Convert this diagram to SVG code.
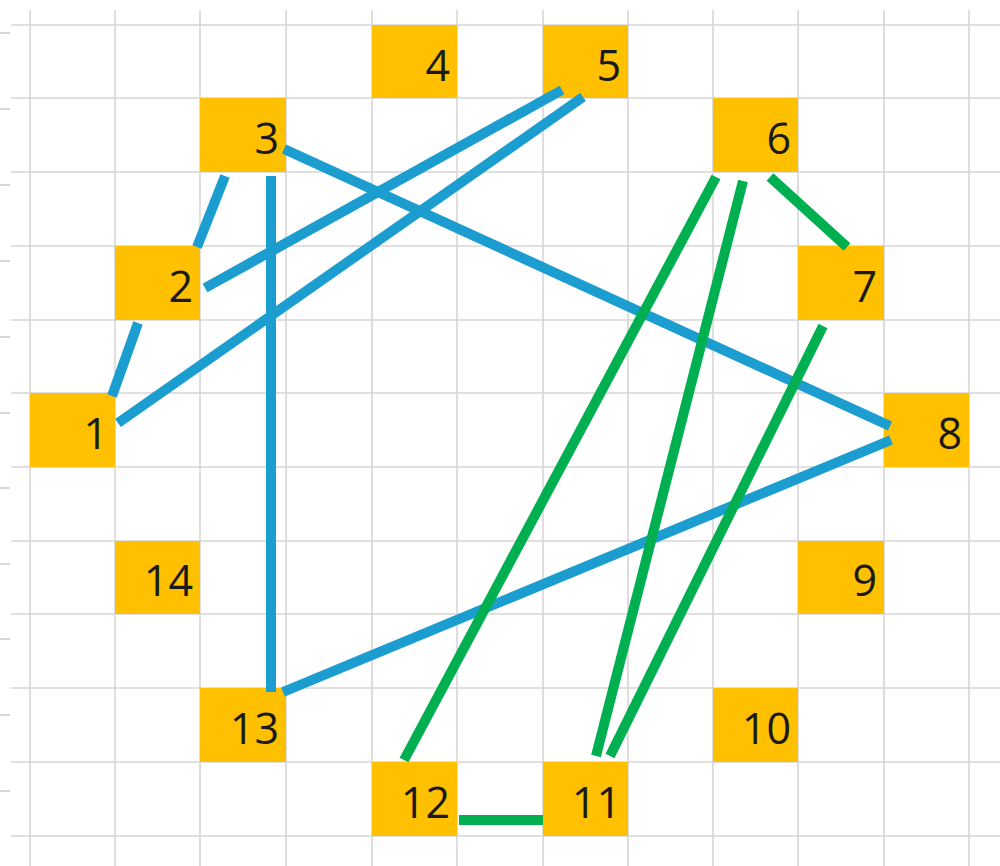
<svg xmlns="http://www.w3.org/2000/svg" width="1000" height="866" viewBox="0 0 1000 866">
<style>
.grid line{stroke:#d6d6d6;stroke-width:1.6}
.tick line{stroke:#cfcfcf;stroke-width:1.6}
.cell{fill:#FFC000}
.lbl{font-family:"Open Sans","Liberation Sans",sans-serif;font-size:43px;fill:#1a1a1a;text-anchor:end}
.b{stroke:#1B9DD0;stroke-width:10;fill:none}
.g{stroke:#00B050;stroke-width:10;fill:none}
</style>
<rect width="1000" height="866" fill="#ffffff"/>
<g class="grid">
<line x1="30" y1="10" x2="30" y2="866"/><line x1="115" y1="10" x2="115" y2="866"/><line x1="200" y1="10" x2="200" y2="866"/><line x1="286" y1="10" x2="286" y2="866"/><line x1="372" y1="10" x2="372" y2="866"/><line x1="457" y1="10" x2="457" y2="866"/><line x1="543" y1="10" x2="543" y2="866"/><line x1="628" y1="10" x2="628" y2="866"/><line x1="713" y1="10" x2="713" y2="866"/><line x1="798" y1="10" x2="798" y2="866"/><line x1="884" y1="10" x2="884" y2="866"/><line x1="969" y1="10" x2="969" y2="866"/>
<line x1="11" y1="25" x2="1000" y2="25"/><line x1="11" y1="98" x2="1000" y2="98"/><line x1="11" y1="172" x2="1000" y2="172"/><line x1="11" y1="246" x2="1000" y2="246"/><line x1="11" y1="320" x2="1000" y2="320"/><line x1="11" y1="393" x2="1000" y2="393"/><line x1="11" y1="467" x2="1000" y2="467"/><line x1="11" y1="541" x2="1000" y2="541"/><line x1="11" y1="614" x2="1000" y2="614"/><line x1="11" y1="688" x2="1000" y2="688"/><line x1="11" y1="762" x2="1000" y2="762"/><line x1="11" y1="836" x2="1000" y2="836"/>
</g>
<g class="tick">
<line x1="0" y1="33" x2="10" y2="33"/><line x1="0" y1="109" x2="10" y2="109"/><line x1="0" y1="185" x2="10" y2="185"/><line x1="0" y1="261" x2="10" y2="261"/><line x1="0" y1="337" x2="10" y2="337"/><line x1="0" y1="413" x2="10" y2="413"/><line x1="0" y1="488" x2="10" y2="488"/><line x1="0" y1="564" x2="10" y2="564"/><line x1="0" y1="639" x2="10" y2="639"/><line x1="0" y1="715" x2="10" y2="715"/><line x1="0" y1="791" x2="10" y2="791"/>
</g>
<g id="n4"><rect class="cell" x="372" y="25" width="85" height="73"/><text class="lbl" x="450" y="81">4</text></g>
<g id="n5"><rect class="cell" x="543" y="25" width="85" height="73"/><text class="lbl" x="621" y="81">5</text></g>
<g id="n3"><rect class="cell" x="200" y="98" width="86" height="74"/><text class="lbl" x="279" y="154">3</text></g>
<g id="n6"><rect class="cell" x="713" y="98" width="85" height="74"/><text class="lbl" x="791" y="154">6</text></g>
<g id="n2"><rect class="cell" x="115" y="246" width="85" height="74"/><text class="lbl" x="193" y="302">2</text></g>
<g id="n7"><rect class="cell" x="798" y="246" width="86" height="74"/><text class="lbl" x="877" y="302">7</text></g>
<g id="n1"><rect class="cell" x="30" y="393" width="85" height="74"/><text class="lbl" x="108" y="449">1</text></g>
<g id="n8"><rect class="cell" x="884" y="393" width="85" height="74"/><text class="lbl" x="962" y="449">8</text></g>
<g id="n14"><rect class="cell" x="115" y="541" width="85" height="73"/><text class="lbl" x="193" y="596">14</text></g>
<g id="n9"><rect class="cell" x="798" y="541" width="86" height="73"/><text class="lbl" x="877" y="596">9</text></g>
<g id="n13"><rect class="cell" x="200" y="688" width="86" height="74"/><text class="lbl" x="279" y="744">13</text></g>
<g id="n10"><rect class="cell" x="713" y="688" width="85" height="74"/><text class="lbl" x="791" y="744">10</text></g>
<g id="n12"><rect class="cell" x="372" y="762" width="85" height="74"/><text class="lbl" x="450" y="818">12</text></g>
<g id="n11"><rect class="cell" x="543" y="762" width="85" height="74"/><text class="lbl" x="621" y="818">11</text></g>
<g id="connectors">
<line class="b" x1="225" y1="176" x2="197" y2="247"/>
<line class="b" x1="138" y1="323" x2="112" y2="396"/>
<line class="b" x1="205" y1="288" x2="562" y2="90"/>
<line class="b" x1="118" y1="423" x2="583" y2="97"/>
<line class="b" x1="284" y1="149" x2="890" y2="426"/>
<line class="b" x1="891" y1="440" x2="283" y2="692"/>
<line class="b" x1="271" y1="176" x2="271" y2="692"/>
<line class="g" x1="770" y1="177" x2="847" y2="247"/>
<line class="g" x1="716" y1="177" x2="404" y2="760"/>
<line class="g" x1="743" y1="181" x2="596" y2="756"/>
<line class="g" x1="823" y1="326" x2="610" y2="756"/>
<line class="g" x1="459" y1="820" x2="543" y2="820"/>
</g>
</svg>
